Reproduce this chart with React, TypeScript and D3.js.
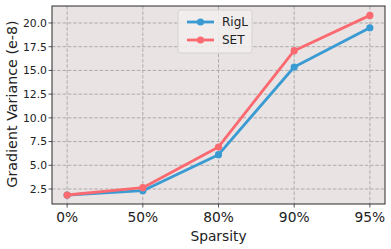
import React from 'react';
import * as d3 from 'd3';

const categories = ['0%', '50%', '80%', '90%', '95%'];
const rigl = [1.87, 2.32, 6.12, 15.36, 19.5];
const setVals = [1.87, 2.64, 6.93, 17.08, 20.8];
const yTicks = [2.5, 5.0, 7.5, 10.0, 12.5, 15.0, 17.5, 20.0];

const series = [
  { name: 'RigL', values: rigl, color: '#3a9bd3' },
  { name: 'SET', values: setVals, color: '#fa6a70' },
];

const W = 391, H = 249;
const margin = { top: 6, right: 6, bottom: 45, left: 52 };
const font = '"DejaVu Sans", sans-serif';

export default function App() {
  const iw = W - margin.left - margin.right;
  const ih = H - margin.top - margin.bottom;

  const x = d3.scalePoint<string>().domain(categories).range([0, iw]).padding(0.2);
  const y = d3.scaleLinear().domain([0.92, 21.79]).range([ih, 0]);

  const line = d3.line<number>()
    .x((_, i) => x(categories[i]) as number)
    .y(d => y(d));

  return (
    <svg width={W} height={H} style={{ position: 'absolute', left: 0, top: 0 }} fontFamily={font}>
      <g transform={`translate(${margin.left},${margin.top})`}>
        <rect width={iw} height={ih} fill="#e9e3e3" />
        {categories.map(c => (
          <line key={c} x1={x(c)} x2={x(c)} y1={0} y2={ih} stroke="#a9a6a6" strokeWidth={0.9} strokeDasharray="3.5,1.8" />
        ))}
        {yTicks.map(t => (
          <line key={t} x1={0} x2={iw} y1={y(t)} y2={y(t)} stroke="#a9a6a6" strokeWidth={0.9} strokeDasharray="3.5,1.8" />
        ))}
        {series.map(s => (
          <g key={s.name}>
            <path d={line(s.values) || ''} fill="none" stroke={s.color} strokeWidth={2.8} strokeLinejoin="round" />
            {s.values.map((v, i) => (
              <circle key={i} cx={x(categories[i])} cy={y(v)} r={3.6} fill={s.color} />
            ))}
          </g>
        ))}
        <rect width={iw} height={ih} fill="none" stroke="#2b2b2b" strokeWidth={1} />
        {yTicks.map(t => (
          <g key={t} transform={`translate(0,${y(t)})`}>
            <line x1={-3.5} x2={0} stroke="#2b2b2b" strokeWidth={0.8} />
            <text x={-5} dy="0.36em" textAnchor="end" fontSize={10.8} fill="#222">{t.toFixed(1)}</text>
          </g>
        ))}
        {categories.map(c => (
          <g key={c} transform={`translate(${x(c)},${ih})`}>
            <line y1={0} y2={3.5} stroke="#2b2b2b" strokeWidth={0.8} />
            <text y={18} textAnchor="middle" fontSize={13.8} fill="#222">{c}</text>
          </g>
        ))}
        <text x={iw / 2} y={ih + 37} textAnchor="middle" fontSize={13.8} fill="#222">Sparsity</text>
        <text transform={`translate(${-35},${ih / 2 - 1}) rotate(-90)`} textAnchor="middle" fontSize={14.3} fill="#222">Gradient Variance (e-8)</text>
        <g transform={`translate(${178 - margin.left},${10 - margin.top})`}>
          <rect width={74} height={43} rx={2.5} fill="#f2eeee" fillOpacity={0.85} stroke="#d0cccc" strokeWidth={0.8} />
          {series.map((s, i) => (
            <g key={s.name} transform={`translate(0,${12 + i * 18})`}>
              <line x1={9} x2={36} stroke={s.color} strokeWidth={2.8} />
              <circle cx={22.5} cy={0} r={3.6} fill={s.color} />
              <text x={44} dy="0.36em" fontSize={12} fill="#222">{s.name}</text>
            </g>
          ))}
        </g>
      </g>
    </svg>
  );
}
